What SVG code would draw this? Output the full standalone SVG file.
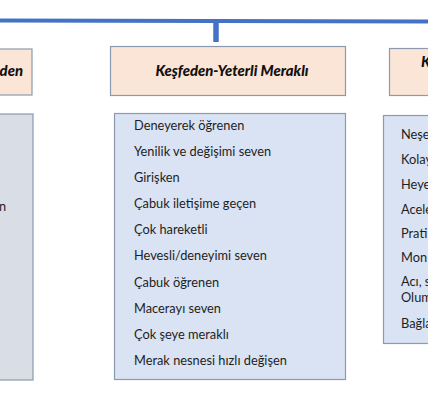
<svg xmlns="http://www.w3.org/2000/svg" width="428" height="400" viewBox="0 0 428 400">
<style>
.hdr{fill:#FBE5D6;stroke:#8C9AB0;stroke-width:1.2}
.lst{fill:#DAE3F3;stroke:#8C9AB0;stroke-width:1.2}
.lstg{fill:#D8DDE6;stroke:#8C9AB0;stroke-width:1.2}
.ht{font-family:Lato,"Open Sans",sans-serif;font-weight:900;font-style:italic;font-size:14.8px;fill:#111}
.it{font-family:Lato,"Open Sans",sans-serif;font-size:12.8px;fill:#1e1e1e}
.conn{stroke:#4472C4;fill:none}
</style>
<rect width="428" height="400" fill="#ffffff"/>
<g id="connectors">
<line class="conn" x1="0" y1="20.5" x2="428" y2="21.5" stroke-width="4"/>
<line class="conn" x1="216" y1="21" x2="216" y2="42" stroke-width="5.5"/>
</g>
<g id="node-left-header">
<rect class="hdr" x="-10" y="49" width="42" height="46"/>
<text class="ht" x="23" y="76" text-anchor="end">den</text>
</g>
<g id="node-left-list">
<rect class="lstg" x="-10" y="114" width="43" height="266"/>
<text class="it" x="-1" y="211">n</text>
</g>
<g id="node-center-header">
<rect class="hdr" x="110.5" y="46.5" width="235" height="49"/>
<text class="ht" x="232" y="76" text-anchor="middle">Keşfeden-Yeterli Meraklı</text>
</g>
<g id="node-center-list">
<rect class="lst" x="114.5" y="113.5" width="231" height="266"/>
<text class="it" x="134" y="130">Deneyerek öğrenen</text>
<text class="it" x="134" y="156">Yenilik ve değişimi seven</text>
<text class="it" x="134" y="182">Girişken</text>
<text class="it" x="134" y="208">Çabuk iletişime geçen</text>
<text class="it" x="134" y="234">Çok hareketli</text>
<text class="it" x="134" y="260">Hevesli/deneyimi seven</text>
<text class="it" x="134" y="287">Çabuk öğrenen</text>
<text class="it" x="134" y="313">Macerayı seven</text>
<text class="it" x="134" y="339">Çok şeye meraklı</text>
<text class="it" x="134" y="365">Merak nesnesi hızlı değişen</text>
</g>
<g id="node-right-header">
<rect class="hdr" x="389.5" y="48.5" width="60" height="47"/>
<text class="ht" x="421" y="67">K</text>
</g>
<g id="node-right-list">
<rect class="lst" x="383.5" y="115.5" width="60" height="228"/>
<text class="it" x="401" y="139">Neşe</text>
<text class="it" x="401" y="164">Kolay</text>
<text class="it" x="401" y="189">Heye</text>
<text class="it" x="401" y="214">Acele</text>
<text class="it" x="401" y="238">Prati</text>
<text class="it" x="401" y="262">Mon</text>
<text class="it" x="401" y="286">Acı, s</text>
<text class="it" x="401" y="302">Olum</text>
<text class="it" x="401" y="328">Bağla</text>
</g>
</svg>
